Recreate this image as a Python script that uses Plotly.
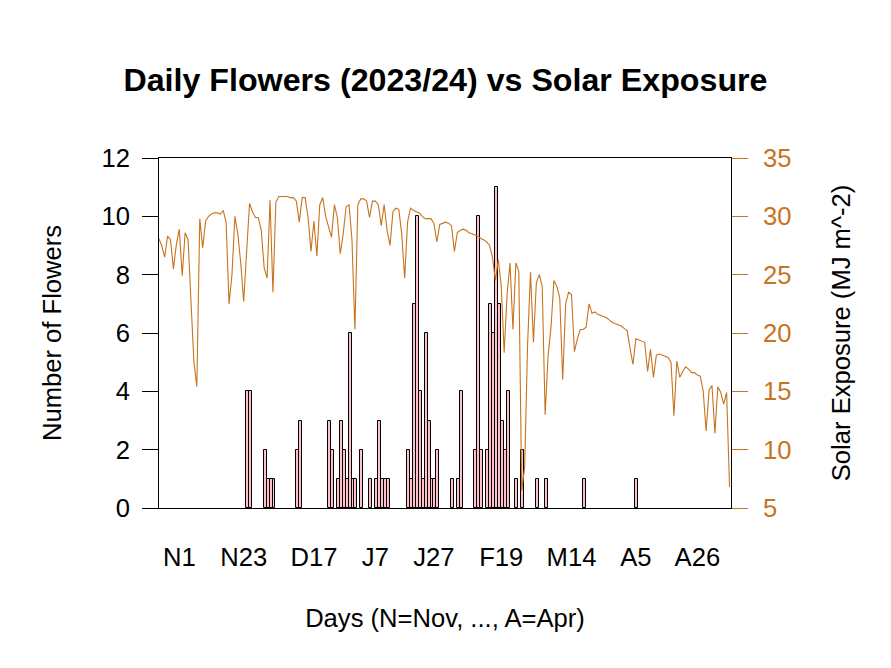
import pandas as pd
import plotly.graph_objects as go

# ---------------- data ----------------
origin = "2023-11-01"

flower_dates = [
    "2023-11-24", "2023-11-25", "2023-11-30", "2023-12-01", "2023-12-02", "2023-12-03",
    "2023-12-11", "2023-12-12", "2023-12-22", "2023-12-23", "2023-12-25", "2023-12-26",
    "2023-12-27", "2023-12-28", "2023-12-29", "2023-12-30", "2023-12-31", "2024-01-02",
    "2024-01-05", "2024-01-07", "2024-01-08", "2024-01-09", "2024-01-10", "2024-01-11",
    "2024-01-18", "2024-01-19", "2024-01-20", "2024-01-21", "2024-01-22", "2024-01-23",
    "2024-01-24", "2024-01-25", "2024-01-26", "2024-01-27", "2024-01-28", "2024-02-02",
    "2024-02-04", "2024-02-05", "2024-02-10", "2024-02-11", "2024-02-12", "2024-02-14",
    "2024-02-15", "2024-02-16", "2024-02-17", "2024-02-18", "2024-02-19", "2024-02-20",
    "2024-02-21", "2024-02-24", "2024-02-26", "2024-03-02", "2024-03-05", "2024-03-18",
    "2024-04-05",
]
flower_counts = [
    4, 4, 2, 1, 1, 1,
    2, 3, 3, 2, 1, 3,
    2, 1, 6, 1, 1, 2,
    1, 1, 3, 1, 1, 1,
    2, 1, 7, 10, 4, 1,
    6, 3, 1, 1, 2, 1,
    1, 4, 2, 10, 2, 2,
    7, 6, 11, 7, 3, 2,
    4, 1, 2, 1, 1, 1,
    1,
]

solar_start = "2023-10-25"
solar_values = [
    28.1, 27.5, 26.5, 28.3, 28.0, 25.5, 27.6, 28.9, 24.9, 28.6,
    28.0, 22.0, 17.5, 15.4, 29.8, 27.3, 29.6, 30.0, 30.2, 30.3,
    30.3, 30.2, 30.5, 29.5, 22.5, 25.0, 30.0, 28.5, 26.0, 22.7,
    27.0, 31.1, 30.4, 29.9, 29.9, 28.8, 25.6, 24.7, 31.4, 23.5,
    31.2, 31.7, 31.7, 31.7, 31.7, 31.6, 31.6, 31.3, 29.5, 31.6,
    31.6, 29.9, 27.0, 29.6, 26.6, 31.0, 31.6, 30.0, 29.2, 28.2,
    31.0, 29.9, 26.8, 28.5, 30.8, 31.0, 28.0, 20.3, 31.0, 31.5,
    31.5, 31.3, 29.9, 31.3, 31.3, 31.0, 29.2, 31.0, 28.8, 27.5,
    30.4, 30.7, 30.6, 28.5, 24.7, 29.5, 30.7, 30.5, 30.4, 30.3,
    30.0, 29.8, 29.8, 29.8, 29.4, 27.8, 29.3, 29.4, 29.5, 29.4,
    29.2, 27.0, 28.6, 28.8, 28.9, 28.8, 28.6, 28.5, 28.4, 28.3,
    28.1, 28.0, 27.8, 27.5, 26.5, 24.5, 26.3, 24.0, 18.3, 23.3,
    26.0, 20.3, 26.0, 25.3, 6.5, 8.5, 19.0, 25.2, 19.2, 24.3,
    25.0, 24.0, 13.0, 18.0, 20.5, 24.5, 24.0, 23.0, 16.0, 22.5,
    23.5, 23.3, 18.4, 19.5, 20.3, 20.3, 20.5, 22.5, 21.7, 21.8,
    21.6, 21.5, 21.4, 21.3, 21.1, 20.9, 20.8, 20.7, 20.6, 20.4,
    20.2, 18.7, 17.3, 19.5, 19.4, 19.3, 19.2, 16.7, 18.6, 16.2,
    18.1, 18.2, 18.1, 18.0, 17.9, 17.5, 12.9, 17.6, 16.2, 16.7,
    17.1, 16.9, 16.6, 16.6, 16.4, 16.3, 15.0, 11.6, 15.1, 15.5,
    11.4, 15.4, 14.9, 13.9, 14.9, 6.8,
]

tick_dates = ["2023-11-01", "2023-11-23", "2023-12-17", "2024-01-07", "2024-01-27",
              "2024-02-19", "2024-03-14", "2024-04-05", "2024-04-26"]
tick_labels = ["N1", "N23", "D17", "J7", "J27", "F19", "M14", "A5", "A26"]

left_ticks = [0, 2, 4, 6, 8, 10, 12]
right_ticks = [5, 10, 15, 20, 25, 30, 35]

# ---------------- helpers ----------------
t0 = pd.Timestamp(origin)


def day_index(d):
    return (pd.Timestamp(d) - t0).days


flower_x = [day_index(d) for d in flower_dates]
solar_x = [day_index(solar_start) + k for k in range(len(solar_values))]
tick_x = [day_index(d) for d in tick_dates]

ORANGE = "#C8731E"
FONT = "Liberation Sans, Arial, sans-serif"

fig = go.Figure()
fig.add_trace(go.Bar(
    x=flower_x, y=flower_counts, width=1, offset=-0.15,
    marker=dict(color="#FFC0CB", line=dict(color="black", width=1)),
    yaxis="y", showlegend=False, name="Flowers",
))
fig.add_trace(go.Scatter(
    x=solar_x, y=solar_values, mode="lines",
    line=dict(color=ORANGE, width=1.1),
    yaxis="y2", showlegend=False, name="Solar",
))

# page body has an 8px margin, so the figure is sized/offset to compensate
fig.update_layout(
    width=883, height=660,
    margin=dict(l=151, r=159.5, t=150, b=160, pad=0),
    paper_bgcolor="white", plot_bgcolor="white",
    font=dict(family=FONT, size=25.6, color="black"),
    title=dict(text="<b>Daily Flowers (2023/24) vs Solar Exposure</b>",
               font=dict(size=32.2, family=FONT, color="black"),
               x=(445.5 - 8) / 883, xanchor="center", xref="container",
               y=1 - 72 / 660, yanchor="middle", yref="container"),
    bargap=0,
    xaxis=dict(range=[-6.93, 188.5], tickvals=tick_x, ticktext=tick_labels,
               ticks="outside", ticklen=0, tickcolor="rgba(0,0,0,0)",
               ticklabelstandoff=26,
               showline=True, mirror=True, linecolor="black", linewidth=1,
               showgrid=False, zeroline=False,
               tickfont=dict(size=25.6, color="black"),
               title=dict(text="Days (N=Nov, ..., A=Apr)", standoff=39,
                          font=dict(size=25.6, color="black"))),
    yaxis=dict(range=[0, 12], tickvals=left_ticks,
               ticks="outside", ticklen=16, tickcolor="black", tickwidth=1,
               ticklabelstandoff=7,
               showline=True, mirror=True, linecolor="black", linewidth=1,
               showgrid=False, zeroline=False,
               tickfont=dict(size=25.6, color="black"),
               title=dict(text="Number of Flowers", standoff=32,
                          font=dict(size=25.6, color="black"))),
    yaxis2=dict(range=[5, 35], tickvals=right_ticks, overlaying="y", side="right",
                ticks="outside", ticklen=16, tickcolor=ORANGE, tickwidth=1,
                ticklabelstandoff=10,
                showline=False, showgrid=False, zeroline=False,
                tickfont=dict(size=25.6, color=ORANGE),
                title=dict(text="Solar Exposure (MJ m^-2)", standoff=41,
                           font=dict(size=25.6, color="black"))),
)

fig.write_html("out.html")
